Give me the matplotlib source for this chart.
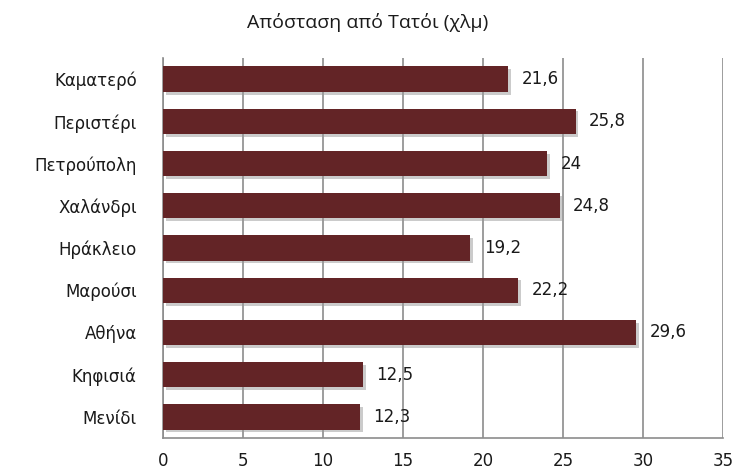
import matplotlib.pyplot as plt
import matplotlib.patheffects as pe

places = ['Καματερό', 'Περιστέρι', 'Πετρούπολη', 'Χαλάνδρι', 'Ηράκλειο',
          'Μαρούσι', 'Αθήνα', 'Κηφισιά', 'Μενίδι']
dist = [21.6, 25.8, 24, 24.8, 19.2, 22.2, 29.6, 12.5, 12.3]
xticks = [0, 5, 10, 15, 20, 25, 30, 35]

fig = plt.figure(figsize=(7.36, 4.69), dpi=100)
ax = fig.add_axes([0.2215, 0.0661, 0.7605, 0.8102])

y = list(range(len(places)))
bars = ax.barh(y, dist, height=0.6, color='#632426', zorder=3)
for b in bars:
    b.set_path_effects([pe.SimplePatchShadow(offset=(2, -2), shadow_rgbFace='#999999', alpha=0.5),
                        pe.Normal()])

for yi, v in zip(y, dist):
    lbl = ('%g' % v).replace('.', ',')
    ax.text(v + 0.85, yi, lbl, va='center', ha='left', fontsize=12,
            color='#1a1a1a', family='DejaVu Sans', zorder=4)

ax.set_xlim(0, 35)
ax.set_ylim(len(places) - 0.5, -0.5)
ax.set_xticks(xticks)
ax.set_yticks(y)
ax.set_yticklabels(places, fontsize=12, color='#1a1a1a')
ax.set_xticklabels([str(t) for t in xticks], fontsize=12, color='#1a1a1a')
ax.tick_params(axis='y', length=0, pad=19)
ax.tick_params(axis='x', length=0, pad=10)
ax.grid(axis='x', color='#8c8c8c', linewidth=1.2, zorder=0)
for s in ['top', 'right']:
    ax.spines[s].set_visible(False)
for s in ['left', 'bottom']:
    ax.spines[s].set_color('#8c8c8c')
    ax.spines[s].set_linewidth(1.2)

fig.text(0.5, 0.953, 'Απόσταση από Τατόι (χλμ)', ha='center', va='center',
         fontsize=14, family='Open Sans', color='#1a1a1a')

fig.savefig('out.png', dpi=100)
